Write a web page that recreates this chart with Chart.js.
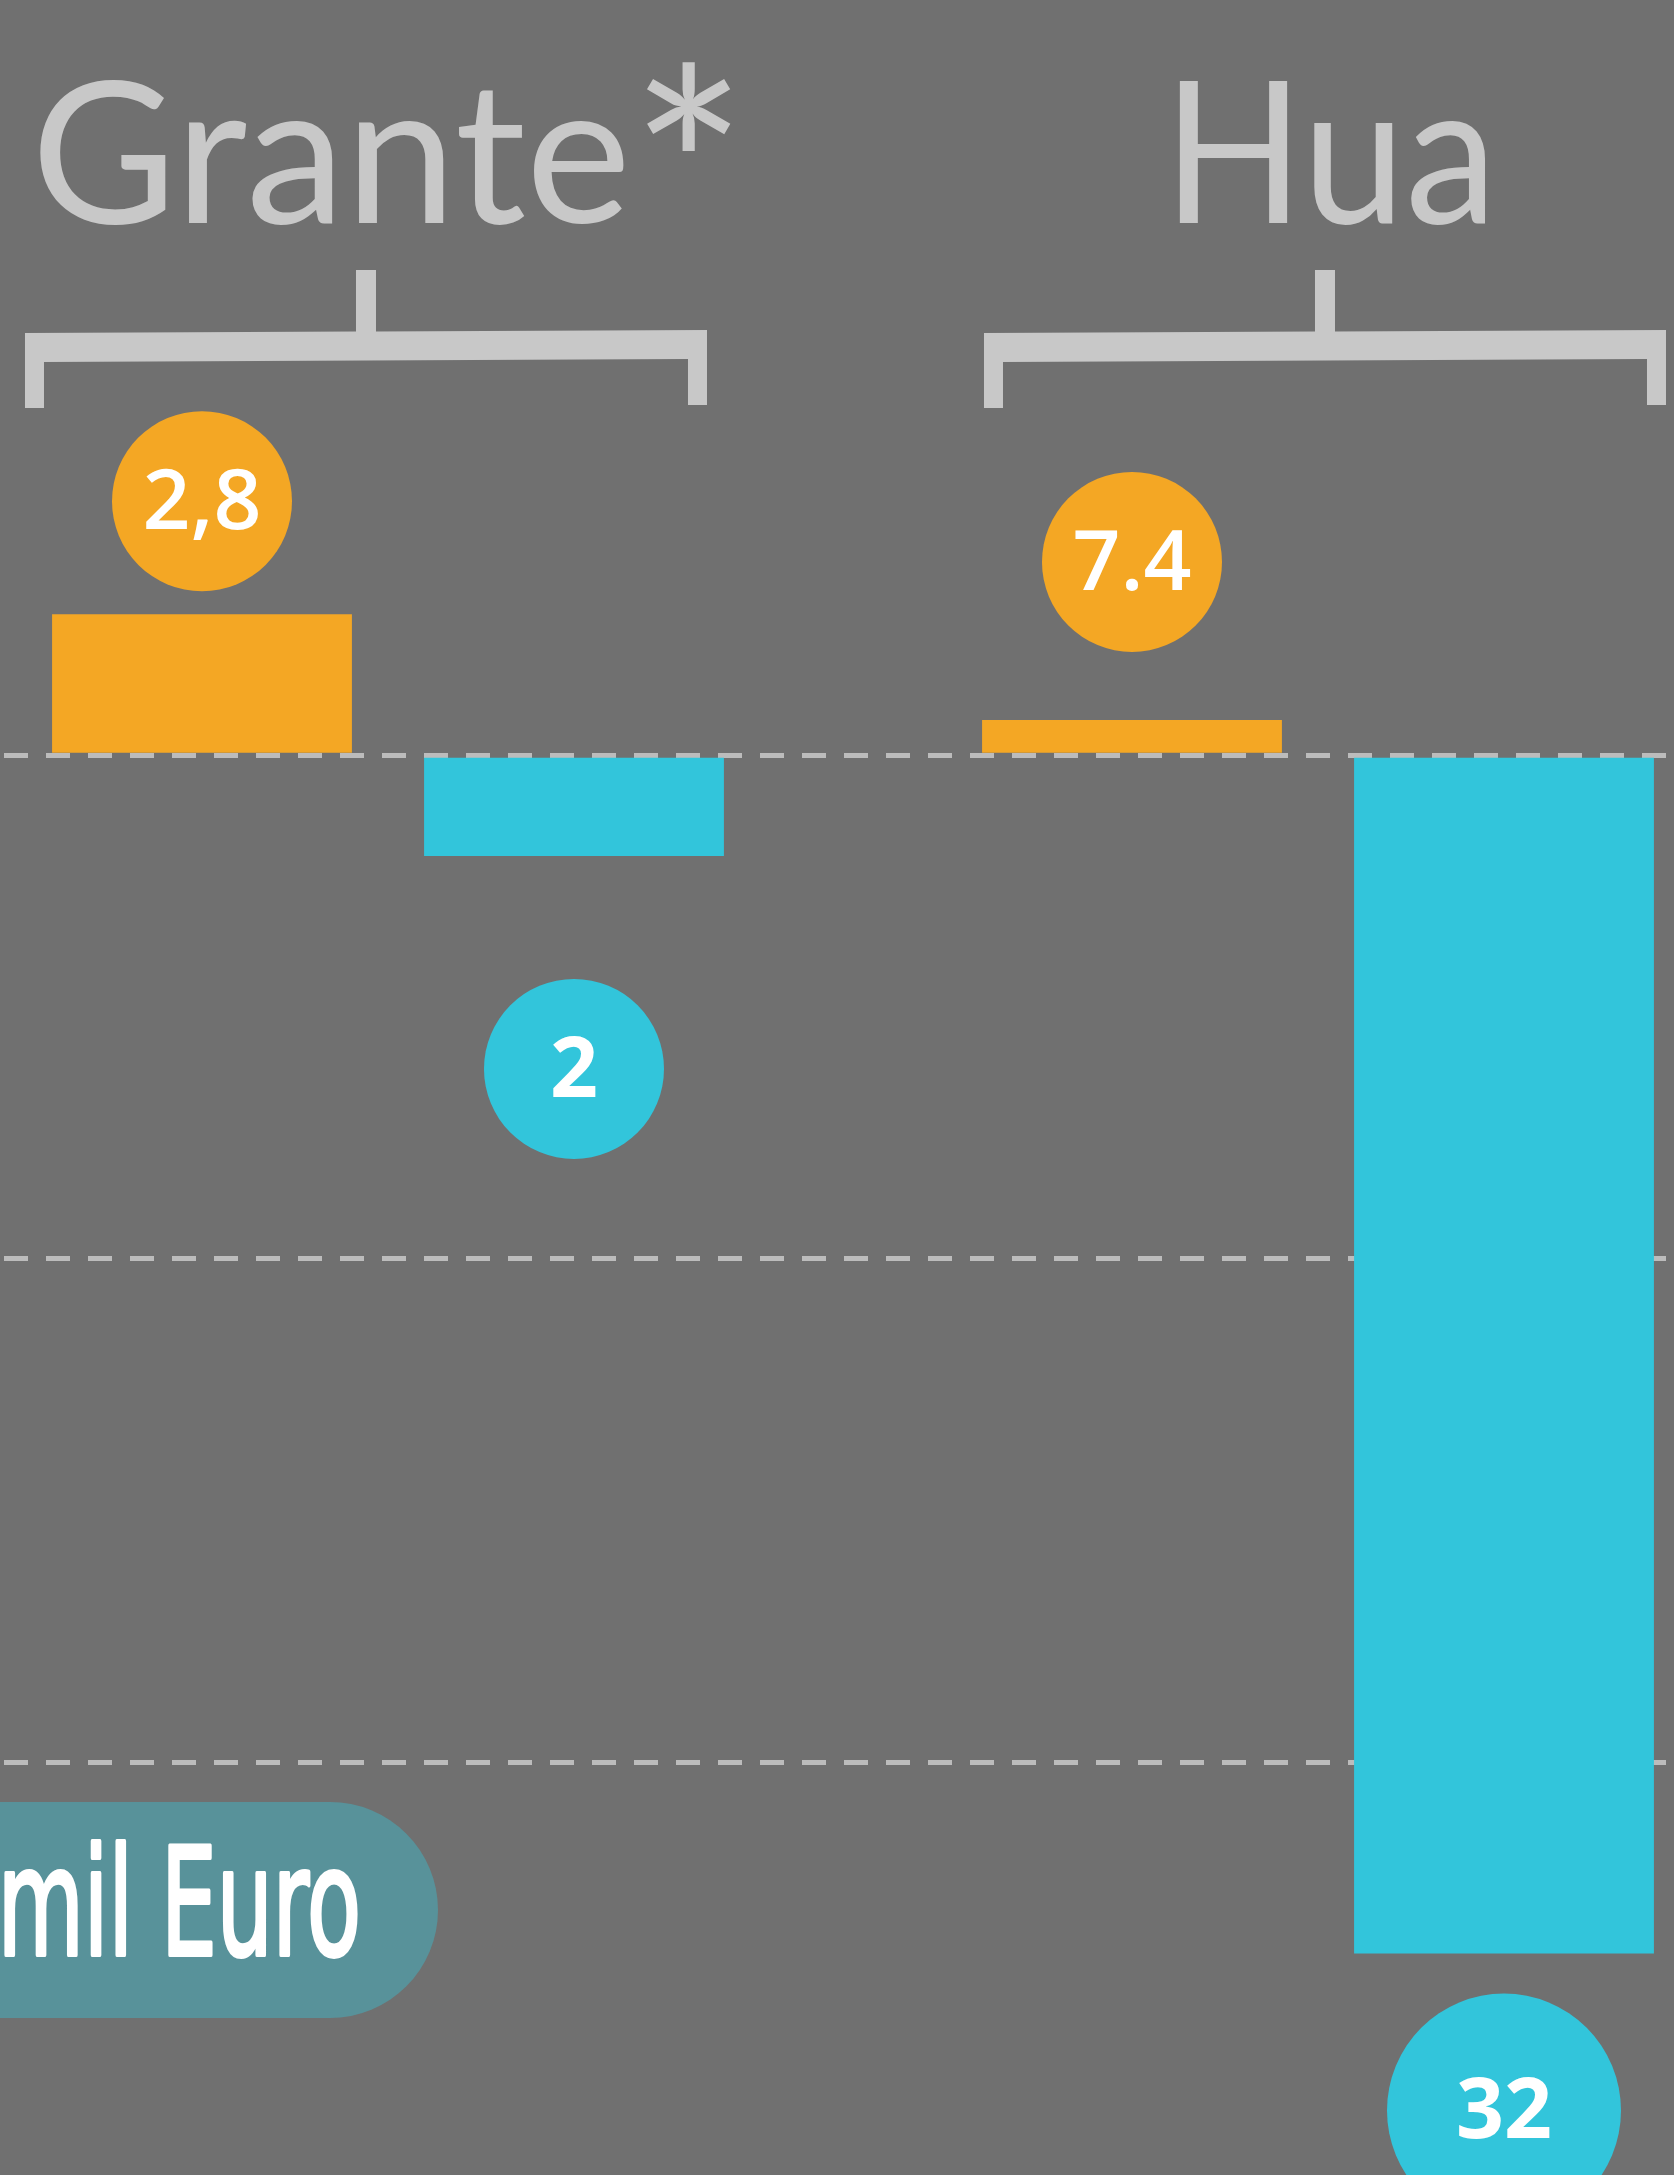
<!DOCTYPE html>
<html>
<head>
<meta charset="utf-8">
<script src="https://cdn.jsdelivr.net/npm/chart.js@4.4.0/dist/chart.umd.min.js"></script>
<style>
  html, body { margin: 0; padding: 0; background: #707070; }
  #wrap { width: 1674px; height: 2175px; position: relative; }
</style>
</head>
<body>
<div id="wrap"><canvas id="chart"></canvas></div>
<script>
const categories = ['Grante', 'Hua'];
const categoryMarks = ['*', ''];
const inflowValues = [2.8, 0.7];
const outflowValues = [-2, -23.8];
const inflowLabels = ['2,8', '7.4'];
const outflowLabels = ['2', '32'];
const gridTicks = [0, -10, -20];
const unitText = 'mil Euro';

const orange = '#f4a724';
const cyan = '#32c5db';
const lightGray = '#c8c8c8';
const pillColor = '#58929a';

// bubble look per dataset: gap from the bar end, radius, font weight
const bubbleStyle = [
  { gaps: [23, 68], radii: [90, 90], weight: 600 },
  { gaps: [123, 40], radii: [90, 117], weight: 700 },
];
const bracketShift = [-22, 7];
const titleWidths = [600, 334];
const titleShift = [-57, 12];
const labelSets = [inflowLabels, outflowLabels];

function drawBracket(ctx, s) {
  const L = s - 341, R = s + 341;
  const top = 333, thick = 29, leg = 19, legBottom = 408, stemTop = 270;
  const tilt = -3; // right side sits a bit higher
  ctx.beginPath();
  ctx.moveTo(L, legBottom);
  ctx.lineTo(L, top);
  ctx.lineTo(s - 10, top + tilt / 2);
  ctx.lineTo(s - 10, stemTop);
  ctx.lineTo(s + 10, stemTop);
  ctx.lineTo(s + 10, top + tilt / 2);
  ctx.lineTo(R, top + tilt);
  ctx.lineTo(R, legBottom + tilt);
  ctx.lineTo(R - leg, legBottom + tilt);
  ctx.lineTo(R - leg, top + thick + tilt);
  ctx.lineTo(L + leg, top + thick);
  ctx.lineTo(L + leg, legBottom);
  ctx.closePath();
  ctx.fill();
}

const decorations = {
  id: 'decorations',
  beforeDraw(chart) {
    const ctx = chart.ctx;
    ctx.save();
    ctx.fillStyle = '#707070';
    ctx.fillRect(0, 0, chart.width, chart.height);
    ctx.restore();
  },
  afterDatasetsDraw(chart) {
    const ctx = chart.ctx;
    const xs = chart.scales.x;
    ctx.save();

    // category titles and brackets
    ctx.fillStyle = lightGray;
    ctx.textBaseline = 'alphabetic';
    categories.forEach((cat, i) => {
      const x = xs.getPixelForValue(i);
      ctx.font = '400 198px Lato';
      ctx.textAlign = 'center';
      const sx = titleWidths[i] / ctx.measureText(cat).width;
      const cx = x + titleShift[i];
      ctx.save();
      ctx.translate(cx, 223);
      ctx.scale(sx, 1);
      ctx.fillText(cat, 0, 0);
      ctx.restore();
      if (categoryMarks[i]) {
        ctx.font = '400 276px Lato';
        ctx.textAlign = 'left';
        ctx.fillText(categoryMarks[i], cx + titleWidths[i] / 2 - 1, 270);
      }
      drawBracket(ctx, x + bracketShift[i]);
    });

    // value bubbles
    chart.data.datasets.forEach((ds, di) => {
      const meta = chart.getDatasetMeta(di);
      const st = bubbleStyle[di];
      meta.data.forEach((bar, i) => {
        const r = st.radii[i];
        const up = ds.data[i].y >= 0;
        const cy = up ? bar.y - st.gaps[i] - r : bar.y + st.gaps[i] + r;
        ctx.fillStyle = ds.backgroundColor;
        ctx.beginPath();
        ctx.arc(bar.x, cy, r, 0, Math.PI * 2);
        ctx.fill();
        ctx.fillStyle = '#ffffff';
        ctx.font = st.weight + ' 84px "Open Sans"';
        ctx.textAlign = 'center';
        ctx.textBaseline = 'middle';
        ctx.fillText(labelSets[di][i], bar.x, cy + 4);
      });
    });

    // unit pill, bottom left
    ctx.fillStyle = pillColor;
    ctx.beginPath();
    ctx.roundRect(-200, 1802, 638, 216, 108);
    ctx.fill();
    ctx.fillStyle = '#ffffff';
    ctx.strokeStyle = '#ffffff';
    ctx.lineWidth = 4;
    ctx.lineJoin = 'round';
    ctx.font = '400 150px "Liberation Sans Narrow", "DejaVu Sans Condensed", Roboto, sans-serif';
    ctx.textAlign = 'right';
    ctx.textBaseline = 'alphabetic';
    const ux = 200 / ctx.measureText('Euro').width;
    ctx.translate(361, 1955);
    ctx.scale(ux, 1);
    ctx.fillText(unitText, 0, 0);
    ctx.strokeText(unitText, 0, 0);
    ctx.restore();
  }
};

const toPoints = (vals) => vals.map((v, i) => ({ x: i, y: v }));

const ctx = document.getElementById('chart').getContext('2d');
const chart = new Chart(ctx, {
  type: 'bar',
  data: {
    datasets: [
      { label: 'in', data: toPoints(inflowValues), backgroundColor: orange, borderWidth: 0,
        barPercentage: 0.806, categoryPercentage: 0.8 },
      { label: 'out', data: toPoints(outflowValues), backgroundColor: cyan, borderWidth: 0,
        barPercentage: 0.806, categoryPercentage: 0.8 },
    ],
  },
  options: {
    responsive: true,
    maintainAspectRatio: false,
    animation: false,
    layout: { padding: 0 },
    plugins: { legend: { display: false }, tooltip: { enabled: false } },
    scales: {
      x: {
        type: 'linear', display: false, offset: false, min: -0.4172, max: 1.3828,
        afterBuildTicks: (scale) => { scale.ticks = categories.map((c, i) => ({ value: i })); },
      },
      y: {
        min: -28.2,
        max: 15,
        afterBuildTicks: (scale) => { scale.ticks = gridTicks.map(v => ({ value: v })); },
        ticks: { display: false },
        border: { display: false, dash: [24, 18], dashOffset: 38 },
        grid: { color: '#bcbcbc', lineWidth: 5, drawTicks: false },
      },
    },
  },
  plugins: [decorations],
});
</script>
</body>
</html>
